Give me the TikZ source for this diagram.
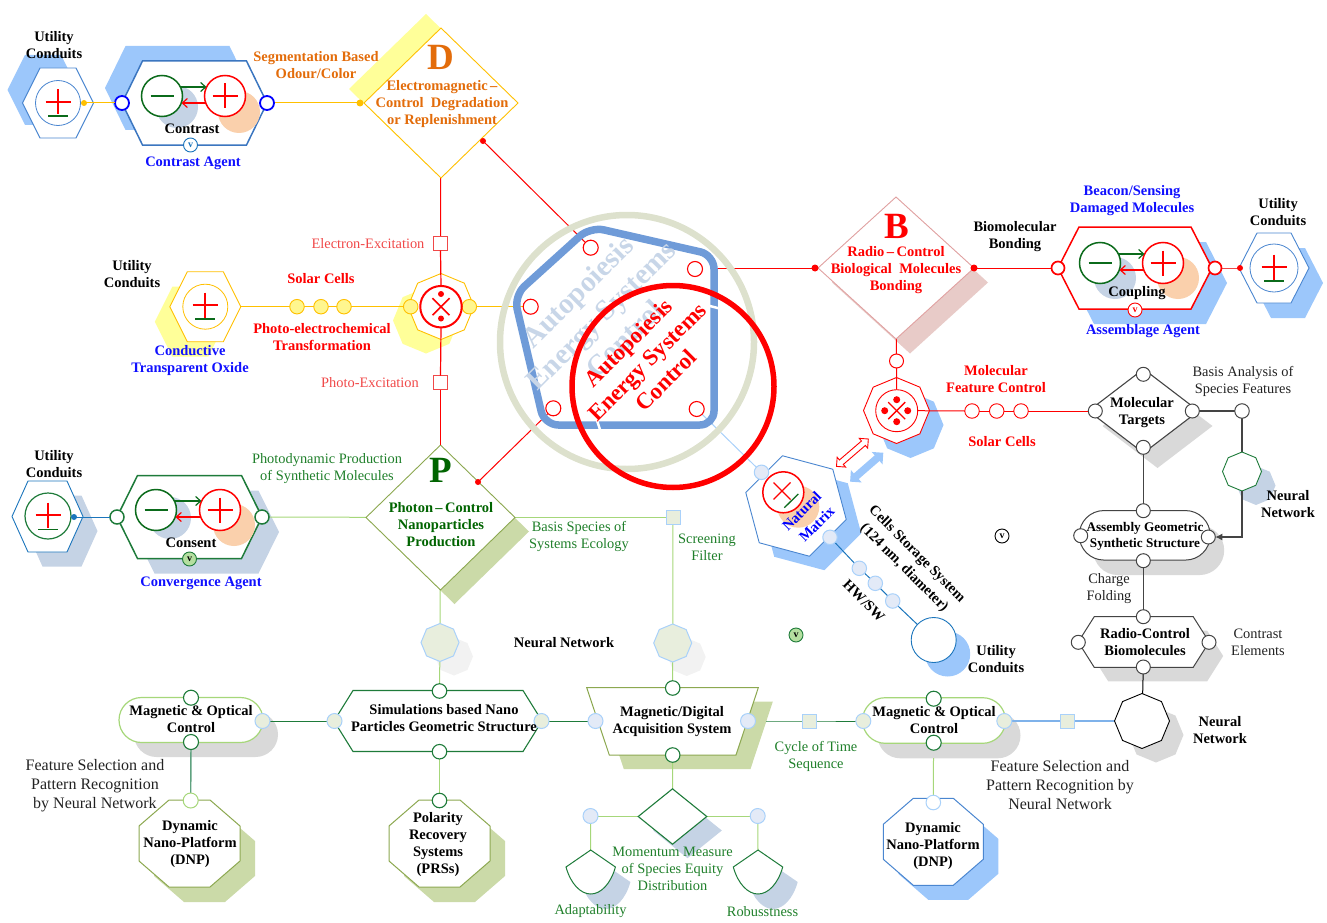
\documentclass[tikz,border=0pt]{standalone}
\usepackage{fontspec}
\setmainfont{Liberation Serif}
\usetikzlibrary{shapes.geometric,shapes.misc,shapes.arrows,arrows.meta,calc}
\pgfdeclarelayer{shadow}\pgfdeclarelayer{conn}\pgfsetlayers{shadow,conn,main}
\definecolor{sblue}{HTML}{9CC7FB}
\definecolor{sgrey}{HTML}{C5D3E5}
\definecolor{sgray}{HTML}{D9D9D9}
\definecolor{solive}{HTML}{CBDAA8}
\definecolor{syellow}{HTML}{FFFF99}
\definecolor{spink}{HTML}{E8CBC8}
\definecolor{spale}{HTML}{F2F2F2}
\definecolor{blob}{HTML}{FAD0AC}
\definecolor{cgreen}{HTML}{0B6B1B}
\definecolor{dgreen}{HTML}{1E7B3A}
\definecolor{lgreen}{HTML}{A6D77A}
\definecolor{olive}{HTML}{8CA850}
\definecolor{tgreen}{HTML}{1F7F2A}
\definecolor{bgreen}{HTML}{006400}
\definecolor{amber}{HTML}{FFC000}
\definecolor{orangetxt}{HTML}{E36C0A}
\definecolor{pinkline}{HTML}{E0A0A0}
\definecolor{hexblue}{HTML}{3B76C0}
\definecolor{thinblue}{HTML}{4A86D0}
\definecolor{teal}{HTML}{1B75BC}
\definecolor{lightb}{HTML}{A9D1FA}
\definecolor{filla}{HTML}{E8EEDD}
\definecolor{fillb}{HTML}{E3EAF7}
\definecolor{softy}{HTML}{FFF68F}
\definecolor{ring}{HTML}{DDE1CD}
\definecolor{penta}{HTML}{6F9BD8}
\definecolor{palet}{HTML}{C8D6E8}
\definecolor{vfill}{HTML}{B5DFA0}
\definecolor{softred}{HTML}{F04848}
\definecolor{gline}{HTML}{444444}
\definecolor{midblue}{HTML}{7FB2EA}
\definecolor{darktxt}{HTML}{222222}
\definecolor{bluetxt}{HTML}{1010FF}
\definecolor{mgreen}{HTML}{5FA27F}
\tikzset{
 regoct/.style={regular polygon,regular polygon sides=8,shape border rotate=22.5,minimum size=#1,fill=white},
 diam/.style 2 args={diamond,minimum width=#1,minimum height=#2,fill=white},
 pill/.style n args={3}{rectangle,rounded corners=#3pt,minimum width=#1,minimum height=#2,fill=white},
 ocirc/.style={circle,minimum size=#1,fill=white},
 sq/.style={rectangle,minimum size=14,fill=white},
 soft/.style={draw=lightb,fill=fillb,line width=1pt},
 softa/.style={draw=lightb,fill=filla,line width=1pt},
 gc/.style={draw=dgreen,line width=1.1pt},
 bc/.style={draw=gline,line width=1pt},
 rc/.style={draw=red,line width=1pt},
 fdot/.style={circle,minimum size=7,fill=#1},
 blob1/.style={circle,minimum size=42,fill=sgrey},
 blob2/.style={circle,minimum size=42,fill=blob},
 chargec/.style={circle,minimum size=41,fill=white,line width=1.5pt},
 vbadge/.style={circle,minimum size=14,draw=#1,line width=0.9pt,fill=white,font=\fontsize{10}{10}\selectfont\bfseries},
 blab/.style={align=center,yshift=-1pt,font=\fontsize{14.5}{17}\selectfont\bfseries,text=black},
 rlab/.style={align=center,yshift=-1pt,font=\fontsize{14.4}{17}\selectfont,text=darktxt},
 biglet/.style={font=\fontsize{37}{37}\selectfont\bfseries},
 ln/.style={draw=#1,line width=1pt},
}
\newcommand\snode[5]{%
 \begin{pgfonlayer}{shadow}\node[#3,draw=none,fill=#5,shift={(#4)}] (#1s) at (#2) {};\end{pgfonlayer}%
 \node[#3] (#1) at (#2) {};}
\newcommand\chpath[3]{($(#1.north west)+(#2,0)$) -- ($(#1.north east)+(-#2,0)$) -- ($(#1.north east)+(0,#3)$) -- ($(#1.south east)+(0,-#3)$) -- ($(#1.south east)+(-#2,0)$) -- ($(#1.south west)+(#2,0)$) -- ($(#1.south west)+(0,-#3)$) -- ($(#1.north west)+(0,#3)$) -- cycle}
% name, at, width, height, xsep, ysep, draw options, shadow shift, shadow colour
\newcommand\chnode[9]{%
 \begin{pgfonlayer}{shadow}\node[minimum width=#3,minimum height=#4,shift={(#8)}] (#1s) at (#2) {};\fill[#9] \chpath{#1s}{#5}{#6};\end{pgfonlayer}%
 \node[minimum width=#3,minimum height=#4] (#1) at (#2) {};
 \draw[#7,fill=white] \chpath{#1}{#5}{#6};}
\newcommand\chargepair[5]{%
 \node[chargec,draw=cgreen] (#1g) at (#2,#3) {};
 \node[chargec,draw=red] (#1r) at (#4,#5) {};
 \draw[cgreen,line width=1.4pt] ($(#1g.center)+(-11.5,0)$) -- ($(#1g.center)+(11.5,0)$);
 \draw[red,line width=1.3pt] ($(#1r.center)+(-12.5,0)$) -- ($(#1r.center)+(12.5,0)$);
 \draw[red,line width=1.3pt] ($(#1r.center)+(0,-12.5)$) -- ($(#1r.center)+(0,12.5)$);
 \draw[cgreen,line width=1.2pt,-{Straight Barb[length=5pt,width=9pt]}] ($(#1g.center)+(18.5,-9)$) -- ($(#1r.center)+(-18.5,-9)$);
 \draw[red,line width=1.2pt,-{Straight Barb[length=5pt,width=9pt]}] ($(#1r.center)+(-19.5,7)$) -- ($(#1g.center)+(19.5,7)$);}
\newcommand\pmsign[3]{%
 \draw[red,line width=1.3pt] (#1,#2) ++(-12.5,0) -- ++(25,0);
 \draw[red,line width=1.3pt] (#1,#2) ++(0,-12.5) -- ++(0,25);
 \draw[cgreen,line width=1.3pt] (#1,#2) ++(-10,#3) -- ++(20,0);}
\newcommand\crossmark[3]{%
 \draw[red,line width=#3] (#1,#2) ++(-8.5,-8.5) -- ++(17,17);
 \draw[red,line width=#3] (#1,#2) ++(8.5,-8.5) -- ++(-17,17);}
\newcommand\piepath[2]{(#1,#2) -- ({#1-24.7},{#2+17}) .. controls ({#1-20},{#2+34}) and ({#1-10},{#2+44}) .. (#1,{#2+44}) .. controls ({#1+10},{#2+44}) and ({#1+20},{#2+34}) .. ({#1+24.7},{#2+17}) -- cycle}
\newcommand\trappath{(586.7,687.7) -- (758.3,687.7) -- (736,755) -- (609.3,755) -- cycle}
\begin{document}
\begin{tikzpicture}[x=1pt,y=-1pt,every node/.style={inner sep=0pt,outer sep=0pt}]
\useasboundingbox (0,0) rectangle (1327,923);

% ---------- top-left: D group
\snode{D}{441,103}{diam={154}{150},draw=amber,line width=0.9pt}{-15,-14}{syellow}
\chnode{uA}{58,103}{71}{70}{17.5}{35}{draw=thinblue,line width=0.9pt}{-15,-13}{sblue}
\node[ocirc=45,draw=thinblue,line width=0.8pt] (uAi) at (58,103) {};
\pmsign{58}{102}{14}
\node[fdot=amber,minimum size=6] (uAd) at (84,103) {};
\chnode{hC}{194.5,103}{145}{84}{20.5}{42}{draw=hexblue,line width=1.5pt}{-17,-15}{sblue}
\node[blob1] (hCb) at (177,107) {};
\node[blob2] (hCo) at (239,112) {};
\chargepair{hC}{162}{96}{225}{96}
\node[ocirc=14,draw=blue,line width=1.8pt] (hCl) at (122,103) {};
\node[ocirc=14,draw=blue,line width=1.8pt] (hCr) at (267,103) {};
\node[vbadge=teal,text=teal] (vC) at (190.5,145) {v};
\node[fdot=amber] (Dl) at (360,103) {};
\node[fdot=red,minimum size=6] (Dd) at (483,141) {};
\node[blab] (tUA) at (54,44.5) {Utility\\Conduits};
\node[blab] (tC) at (192,128) {Contrast};
\node[blab,text=bluetxt] (tCA) at (193,162) {Contrast Agent};
\node[blab,text=orangetxt] (tSeg) at (316,64.5) {Segmentation Based\\Odour/Color};
\node[biglet,text=orangetxt] (tDl) at (441,57) {D};
\node[blab,text=orangetxt] (tD) at (442,103) {Electromagnetic\,--\\Control\ \ Degradation\\or Replenishment};

% ---------- B group
\snode{B}{896,268}{diam={156}{142},draw=pinkline,line width=0.9pt}{14,14.5}{spink}
\node[fdot=red] (Bl) at (815,268) {};
\node[fdot=red] (Br) at (974,268) {};
\chnode{hK}{1135,268}{154}{82}{21}{41}{draw=red,line width=1.5pt}{15,15}{sblue}
\node[blob1] (hKb) at (1115,278) {};
\node[blob2] (hKo) at (1178,278) {};
\chargepair{hK}{1100}{263}{1163}{263}
\node[ocirc=13,draw=red,line width=1.7pt] (hKl) at (1058,268) {};
\node[ocirc=13,draw=red,line width=1.7pt] (hKr) at (1215,268) {};
\node[vbadge=red,text=red] (vK) at (1135,310) {v};
\chnode{uB}{1274,268}{70}{70}{18}{35}{draw=thinblue,line width=0.9pt}{14,15}{sblue}
\node[ocirc=48,draw=thinblue,line width=0.8pt] (uBi) at (1274,268) {};
\pmsign{1274}{267}{14}
\node[fdot=red,minimum size=6] (uBd) at (1240,268) {};
\node[biglet,text=red] (tBl) at (897,226) {B};
\node[blab,text=red] (tB) at (896,269) {Radio\,--\,Control\\Biological\ \ Molecules\\Bonding};
\node[blab] (tBio) at (1015,236) {Biomolecular\\Bonding};
\node[blab,text=bluetxt] (tBea) at (1132,199.5) {Beacon/Sensing\\Damaged Molecules};
\node[blab] (tK) at (1137,292) {Coupling};
\node[blab,text=bluetxt] (tAA) at (1143,330) {Assemblage Agent};
\node[blab] (tUB) at (1278,211.5) {Utility\\Conduits};

% ---------- left-middle: X group
\chnode{uC}{205.3,306.7}{71}{70}{17.5}{35}{draw=amber,line width=0.9pt}{-15,15}{syellow}
\node[ocirc=45,draw=amber,line width=0.8pt] (uCi) at (205.3,306.7) {};
\pmsign{205}{305}{14}
\node[ocirc=14.5,draw=amber,fill=softy,line width=0.9pt] (y1) at (297,306.7) {};
\node[ocirc=14.5,draw=amber,fill=softy,line width=0.9pt] (y2) at (321,306.7) {};
\node[ocirc=14.5,draw=amber,fill=softy,line width=0.9pt] (y3) at (344,306.7) {};
\snode{X}{441,306.5}{regoct=66,draw=amber,line width=0.9pt}{-15,14}{syellow}
\node[ocirc=14.5,draw=amber,fill=softy,line width=0.9pt] (Xl) at (410.7,306.7) {};
\node[ocirc=14.5,draw=amber,fill=softy,line width=0.9pt] (Xr) at (469.3,306.7) {};
\node[sq,draw=softred,line width=0.9pt] (sqE) at (440.5,243.5) {};
\node[sq,draw=softred,line width=0.9pt] (sqP) at (440.5,382.5) {};
\node[blab] (tUC) at (132,273.5) {Utility\\Conduits};
\node[blab,text=red] (tSol) at (321,278) {Solar Cells};
\node[blab,text=red] (tPho) at (322,336.5) {Photo-electrochemical\\Transformation};
\node[blab,text=bluetxt] (tCon) at (190,359.5) {Conductive\\Transparent Oxide};
\node[rlab,text=softred] (tEE) at (368,243) {Electron-Excitation};
\node[rlab,text=softred] (tPE) at (370,382) {Photo-Excitation};

% ---------- P group
\snode{P}{440.5,517.5}{diam={149}{145},draw=olive,line width=0.9pt}{14,14}{solive}
\node[fdot=red,minimum size=6] (Pd) at (478,482) {};
\chnode{uE}{47.5,516.5}{71}{71}{16}{35.5}{draw=teal,line width=0.9pt}{14.5,14.5}{sgrey}
\node[ocirc=46,draw=dgreen,line width=1.2pt] (uEi) at (48,516) {};
\pmsign{48}{515}{14.5}
\node[fdot=teal,minimum size=6] (uEd) at (74,517) {};
\chnode{hN}{189.5,517}{145}{83}{20.5}{41.5}{draw=dgreen,line width=1.5pt}{17,15}{sgrey}
\node[blob1] (hNb) at (170,518) {};
\node[blob2] (hNo) at (234,525) {};
\chargepair{hN}{156}{510}{220}{510}
\node[ocirc=14,gc,line width=1.5pt] (hNl) at (117,517) {};
\node[ocirc=14,gc,line width=1.5pt] (hNr) at (262,517) {};
\node[vbadge=dgreen,fill=vfill,text=black] (vN) at (189.5,559) {v};
\node[sq,softa] (sqF) at (673,517.5) {};
\node[blab] (tUE) at (54,463.5) {Utility\\Conduits};
\node[blab] (tNc) at (191,542) {Consent};
\node[blab,text=bluetxt] (tCoA) at (201,582) {Convergence Agent};
\node[rlab,text=tgreen] (tPd) at (327,467.5) {Photodynamic Production\\of Synthetic Molecules};
\node[biglet,text=bgreen] (tPl) at (441,470) {P};
\node[blab,text=bgreen] (tP) at (441,524) {Photon\,--\,Control\\Nanoparticles\\Production};
\node[rlab,text=tgreen] (tBS) at (579,535.5) {Basis Species of\\Systems Ecology};
\node[rlab,text=tgreen] (tSF) at (707,546) {Screening\\Filter};
\node[blab] (tNN) at (564,642) {Neural Network};

% ---------- centre: rings and pentagon
\coordinate (pR) at (711,268);
\node[circle,minimum size=254,draw=ring,line width=6.5pt] (ringA) at (627,342) {};
\draw[penta,line width=7.5pt,rounded corners=14pt] (590.2,226.8) -- (714,255) -- (714,425) -- (544.4,425) -- (514,295.7) -- cycle;
\draw[white,line width=2.5pt] (708,305.5) -- (719.5,308.5);
\draw[white,line width=2.5pt] (596.5,419) -- (600.5,431);
\node[align=center,rotate=45,text=palet,font=\fontsize{29}{33}\selectfont\bfseries] (tPale) at (600.7,315) {Autopoiesis\\Energy Systems\\Control};
\node[ocirc=15,rc,line width=1.1pt] (pT) at (590.7,247.7) {};
\node[ocirc=15,rc,line width=1.1pt] (pU) at (695,269) {};
\node[ocirc=15,rc,line width=1.1pt] (pL) at (530.7,306.7) {};
\node[ocirc=15,rc,line width=1.1pt] (pB) at (553.3,408.3) {};
\node[ocirc=15,rc,line width=1.1pt] (pC) at (696.7,409) {};
\node[circle,minimum size=202,draw=red,line width=5.5pt] (ringB) at (673,386.5) {};
\node[align=center,rotate=45,text=red,font=\fontsize{23}{26.5}\selectfont\bfseries] (tRed) at (647,361.5) {Autopoiesis\\Energy Systems\\Control};

% ---------- Natural matrix
\snode{M}{796,506}{regular polygon,regular polygon sides=6,shape border rotate=-15,minimum size=104,fill=white,draw=thinblue,line width=0.9pt}{15,14}{sblue}
\node[blob2] (Mo) at (798.3,506.7) {};
\node[ocirc=41,rc,line width=1.5pt] (Mc) at (783.3,492.3) {};
\crossmark{782}{491}{1.3pt}
\draw[cgreen,line width=1.3pt] (784.3,507.7) -- (798.3,494);
\node[ocirc=14.5,soft] (Ma) at (761.5,472.3) {};
\node[ocirc=14.5,soft] (Mb) at (830,537.3) {};
\node[blab,text=blue,rotate=45] (tNat) at (801.7,510) {Natural};
\node[blab,text=blue,rotate=45] (tMat) at (816.7,523) {Matrix};
\node[ocirc=14.5,soft] (m1) at (859.3,568.3) {};
\node[ocirc=14.5,soft] (m2) at (875.3,583.3) {};
\node[ocirc=14.5,soft] (m3) at (892.7,601) {};
\snode{mU}{933.7,640}{ocirc=45,draw=teal,line width=0.9pt}{14,14}{sblue}
\node[double arrow,inner ysep=2.5pt,double arrow head extend=3.5pt,minimum height=42,rotate=40.7,fill=white,draw=red,line width=0.9pt] (arR) at (852.4,452.7) {};
\node[double arrow,inner ysep=3.5pt,double arrow head extend=4.5pt,minimum height=44,rotate=41,fill=sblue] (arB) at (866.7,467.2) {};
\node[blab,rotate=-45] (tCell) at (916.7,553.3) {Cells Storage System};
\node[blab,rotate=-45] (tNm) at (904,567) {(124 nm, diameter)};
\node[blab,rotate=-45] (tHW) at (864,600) {HW/SW};
\node[blab] (tUm) at (996,658.5) {Utility\\Conduits};
\node[vbadge=black,text=black] (vA) at (1002,536) {v};
\node[vbadge=dgreen,fill=vfill,text=black] (vB) at (796,635) {v};

% ---------- Molecular feature octagon
\snode{Fo}{896.5,410.5}{regoct=66,draw=red,line width=0.9pt}{14,14.5}{sblue}
\node[ocirc=42,rc,line width=0.9pt] (Fi) at (896.7,410.7) {};
\crossmark{896.7}{410.7}{1.3pt}
\node[fdot=red] (Fd1) at (896.7,399.7) {};
\node[fdot=red] (Fd2) at (884.7,410.7) {};
\node[fdot=red] (Fd3) at (907.7,410.7) {};
\node[fdot=red] (Fd4) at (896.7,421.7) {};
\node[ocirc=14,rc] (Bb) at (896.5,361) {};
\node[ocirc=14.5,rc,line width=0.9pt] (s1) at (972,411) {};
\node[ocirc=14.5,rc,line width=0.9pt] (s2) at (996.7,411) {};
\node[ocirc=14.5,rc,line width=0.9pt] (s3) at (1021,411) {};
\node[blab,text=red] (tMF) at (996,378) {Molecular\\Feature Control};
\node[blab,text=red] (tSC) at (1002,441) {Solar Cells};

% ---------- right column
\snode{T}{1143.5,411}{diam={110}{84},draw=gline,line width=1.1pt}{14,15}{sgray}
\node[ocirc=14,bc] (Tt) at (1143.3,374.3) {};
\node[ocirc=14,bc] (Tl) at (1095.3,411) {};
\node[ocirc=14,bc] (Tr) at (1192.3,411) {};
\node[ocirc=14,bc] (Tb) at (1143.3,447.3) {};
\node[ocirc=14.5,bc] (Tc) at (1242,411) {};
\snode{Ng}{1242,471.5}{regoct=39,draw=dgreen,line width=0.9pt}{14,14}{sgrey}
\snode{As}{1144.7,535.3}{pill={131}{49.5}{24.7},draw=gline,line width=1pt}{14,15}{sgray}
\node[ocirc=14,bc] (Ast) at (1143.3,510.7) {};
\node[ocirc=14,bc] (Asb) at (1143.3,560.7) {};
\node[ocirc=14,bc] (Asl) at (1080.7,535.7) {};
\node[ocirc=14,bc] (Asr) at (1208.3,537) {};
\chnode{Rc}{1143.7,642}{131}{50.6}{16}{25.3}{draw=gline,line width=1pt}{14,14}{sgray}
\node[ocirc=14,bc] (Rct) at (1143.3,616.7) {};
\node[ocirc=14,bc] (Rcb) at (1143.3,667) {};
\node[ocirc=14,bc] (Rcl) at (1078.3,642.3) {};
\node[ocirc=14,bc] (Rcr) at (1209,642.3) {};
\snode{Ob}{1142,721}{regoct=55,draw=black,line width=0.9pt}{14,14}{sgray}
\node[blab] (tT) at (1142,411.5) {Molecular\\Targets};
\node[rlab] (tBA) at (1243,380.5) {Basis Analysis of\\Species Features};
\node[blab] (tNg) at (1288,503.5) {Neural\\Network};
\node[blab,font=\fontsize{13.2}{15.5}\selectfont\bfseries] (tAs) at (1145,535.5) {Assembly Geometric\\Synthetic Structure};
\node[rlab] (tCh) at (1109,588) {Charge\\Folding};
\node[blab] (tRc) at (1145,641.5) {Radio-Control\\Biomolecules};
\node[rlab] (tCE) at (1258,641.5) {Contrast\\Elements};
\node[blab] (tNb) at (1220,729.5) {Neural\\Network};

% ---------- bottom row
\snode{Ma1}{191,720}{pill={144}{45}{22.5},draw=lgreen,line width=1.2pt}{15,14.5}{sgray}
\node[ocirc=15,gc] (Ma1t) at (191,697.7) {};
\node[ocirc=15,gc] (Ma1b) at (191,742) {};
\node[ocirc=15,softa] (Ma1r) at (262.5,721) {};
\chnode{Si}{438,721}{208}{61}{19}{30.5}{draw=dgreen,line width=1.1pt}{0,0}{white}
\node[ocirc=14.5,gc] (Sit) at (439.5,691) {};
\node[ocirc=14.5,gc] (Sib) at (439.5,751.7) {};
\node[ocirc=15,softa] (Sil) at (334.5,721) {};
\node[ocirc=15,softa] (Sir) at (541.5,721) {};
\chnode{Dn}{189.5,843.5}{101}{87}{30}{26}{draw=olive,line width=1pt}{15,15}{solive}
\node[ocirc=15,draw=lgreen,line width=1pt] (Dnt) at (190.7,800.5) {};
\chnode{Pr}{439.5,843.5}{101}{87}{30}{26}{draw=olive,line width=1pt}{15,15}{solive}
\node[ocirc=14.5,gc] (Prt) at (439.5,800.5) {};
\snode{N1}{440,642.5}{regoct=38,softa}{14,14}{spale}
\snode{N2}{672.7,643}{regoct=38,softa}{14,14}{spale}
\begin{pgfonlayer}{shadow}
\fill[solive,shift={(14.5,14)}] \trappath;
\end{pgfonlayer}
\draw[olive,line width=1pt,fill=white] \trappath;
\node[ocirc=14.5,gc] (Tzt) at (672.7,688) {};
\node[ocirc=14.5,gc] (Tzb) at (672.7,755) {};
\node[ocirc=15,soft] (Tzl) at (595.5,721) {};
\node[ocirc=15,soft] (Tzr) at (748,721) {};
\coordinate (TzS) at (766,721);
\node[sq,softa] (sqC) at (809.5,721) {};
\snode{Mo2}{672.5,816.5}{diam={68.6}{55.4},draw=dgreen,line width=1.1pt}{15,14}{sgrey}
\node[ocirc=15,soft] (Mol) at (590.5,816) {};
\node[ocirc=15,soft] (Mor) at (757.7,816) {};
\coordinate (pieA) at (590.7,850);
\coordinate (pieR) at (758,850);
\begin{pgfonlayer}{shadow}
\fill[sgrey,shift={(15,15)}] \piepath{590.7}{850};
\fill[sgrey,shift={(15,15)}] \piepath{758}{850};
\end{pgfonlayer}
\draw[dgreen,line width=1pt,fill=white] \piepath{590.7}{850};
\draw[dgreen,line width=1pt,fill=white] \piepath{758}{850};
\snode{Ma2}{934,720.5}{pill={143}{45.6}{22.8},draw=lgreen,line width=1.2pt}{15,15}{sgray}
\node[ocirc=15,gc] (Ma2t) at (933.7,698.7) {};
\node[ocirc=15,gc] (Ma2b) at (933.7,742.7) {};
\node[ocirc=15,softa] (Ma2l) at (863.3,721) {};
\node[ocirc=15,softa] (Ma2r) at (1004.3,721) {};
\coordinate (Ma2S) at (933.5,758);
\node[sq,softa] (sqG) at (1067.7,721) {};
\chnode{Dq}{933.3,841.8}{100}{87}{30}{26}{draw=thinblue,line width=1pt}{15,14.5}{sblue}
\node[ocirc=14.6,draw=lightb,line width=1pt] (Dqt) at (933.3,802.5) {};
\node[blab] (tM1) at (191,718.5) {Magnetic \& Optical\\Control};
\node[blab] (tSi) at (444,717.5) {Simulations based Nano\\Particles Geometric Structure};
\node[blab] (tDn) at (190,843) {Dynamic\\Nano-Platform\\(DNP)};
\node[blab] (tPr) at (438,843.5) {Polarity\\Recovery\\Systems\\(PRSs)};
\node[rlab,font=\fontsize{16}{19}\selectfont] (tFS) at (95,785) {Feature Selection and\\Pattern Recognition\\by Neural Network};
\node[blab] (tMd) at (672,720.5) {Magnetic/Digital\\Acquisition System};
\node[rlab,text=tgreen] (tMm) at (672.5,868) {Momentum Measure\\of Species Equity\\Distribution};
\node[rlab,text=tgreen] (tAd) at (590.5,910) {Adaptability};
\node[rlab,text=tgreen] (tRo) at (762.5,911) {Robusstness};
\node[rlab,text=tgreen] (tCy) at (816,755.5) {Cycle of Time\\Sequence};
\node[blab] (tM2) at (934,719.5) {Magnetic \& Optical\\Control};
\node[rlab,font=\fontsize{16}{19}\selectfont] (tFR) at (1060,784) {Feature Selection and\\Pattern Recognition by\\Neural Network};
\node[blab] (tDq) at (933,845) {Dynamic\\Nano-Platform\\(DNP)};

% ---------- connectors under the shapes
\begin{pgfonlayer}{conn}
\draw[ln=amber] (hCr.center) -- (Dl.center);
\draw[ln=red] (D.center) -- (sqE.center);
\draw[ln=red] (Dd.center) -- (pT.center);
\draw[ln=red] (Pd.center) -- (pB.center);
\draw[ln=red] (pR) -- (Bl.center);
\draw[ln=red] (Br.center) -- (hKl.center);
\draw[ln=softred] (hKr.center) -- (uBd.center);
\draw[ln=amber] (uC.center) -- (y1.center) -- (y2.center) -- (y3.center) -- (Xl.center);
\draw[ln=amber] (Xr.center) -- (pL.center);
\draw[ln=lightb] (pC.center) -- (Ma.center);
\draw[ln=teal] (Mb.center) -- (m1.center) -- (m2.center) -- (m3.center) -- (mU.center);
\draw[ln=lgreen] (hNr.center) -- (P.center);
\draw[ln=lgreen] (P.center) -- (sqF.center |- P.center) -- (sqF.center);
\draw[ln=lgreen] (sqF.center) -- (N2.center) -- (Tzt.center);
\draw[ln=lgreen] (P.center) -- (N1.center) -- (Sit.center);
\draw[ln=lgreen] (Sib.center) -- (Prt.center);
\draw[ln=dgreen] (Ma1r.center) -- (Sil.center);
\draw[ln=dgreen] (Sir.center) -- (Tzl.center);
\draw[ln=dgreen] (TzS) -- (sqC.center) -- (Ma2l.center);
\draw[mgreen,line width=1.4pt] (Ma1b.center) -- (Dnt.center);
\draw[ln=lgreen] (Ma2S) -- (Dqt.center);
\draw[midblue,line width=1.6pt] (Ma2r.center) -- (sqG.center) -- (Ob.center);
\draw[ln=lgreen] (Tzb.center) -- (Mo2.center);
\draw[ln=lgreen] (Mol.center) -- (Mor.center);
\draw[ln=lgreen] (Mol.center) -- (pieA);
\draw[ln=lgreen] (Mor.center) -- (pieR);
\draw[ln=red] (B.center) -- (Bb.center);
\draw[gline,line width=1.2pt] (Tr.center) -- (Tc.center) -- (Ng.center);
\draw[gline,line width=1.2pt] (Tb.center) -- (Ast.center);
\draw[gline,line width=1.2pt] (Asb.center) -- (Rct.center);
\draw[black,line width=1pt] (Rcb.center) -- (Ob.center);
\end{pgfonlayer}
% ---------- connectors above the shapes
\draw[ln=red] (Bb.south) -- (Fi.north);
\draw[ln=red] (Fi.east) -- (s1.west);
\draw[ln=red] (s1.east) -- (s2.west);
\draw[ln=red] (s2.east) -- (s3.west);
\draw[ln=red] (s3.east) -- (Tl.west);
\draw[ln=amber] (uAd.center) -- (hCl.west);
\draw[ln=teal] (uEd.center) -- (hNl.west);
\node[ocirc=41.5,draw=red,line width=2pt] (Xi) at (441,306.7) {};
\crossmark{441}{306.7}{1.5pt}
\node[fdot=red,minimum size=6] (Xd1) at (441,294) {};
\node[fdot=red,minimum size=6] (Xd2) at (441,318.5) {};
\draw[ln=red,line width=1.2pt] (sqE.south) -- (Xi.north);
\draw[ln=red,line width=1.2pt] (Xi.south) -- (sqP.north);
\draw[ln=red,line width=1.2pt] (sqP.south) -- (P.north);
\draw[gline,line width=1.2pt,-{Latex[length=7pt,width=7pt]}] (Ng.south) |- (Asr.east);
\end{tikzpicture}
\end{document}
